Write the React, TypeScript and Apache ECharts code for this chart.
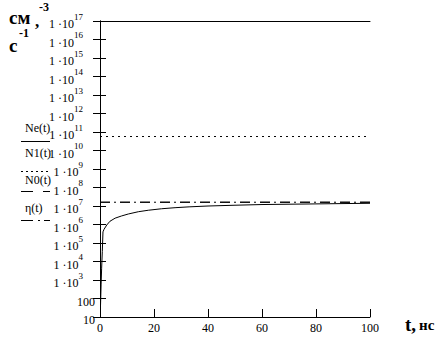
import React, { useEffect, useRef } from "react";
import * as echarts from "echarts";

// Ne(t) curve, t in ns
const neTime = [0.2, 0.4, 0.6, 0.85, 1.1, 1.5, 2.5, 3.7, 5.6, 8, 10.5, 14.2, 17.9, 22.8, 27.8, 33, 40, 50, 60, 70, 80, 90, 100];
const neValue = [45, 540, 4e3, 3.4e4, 4e5, 5.5e5, 9.4e5, 1.5e6, 2.2e6, 2.9e6, 3.7e6, 4.9e6, 5.9e6, 7.1e6, 8.1e6, 9e6, 1e7, 1.1e7, 1.2e7, 1.25e7, 1.3e7, 1.35e7, 1.4e7];
// constant levels
const constTime = [0, 100];
const n1Value = [5.7e10, 5.7e10];
const n0Value = [1.6e7, 1.6e7];
const etaValue = [1.6e7, 1.6e7];
const legendNames = ["Ne(t)", "N1(t)", "N0(t)", "η(t)"];

const SERIF = "Liberation Serif";

export default function App() {
  const ref = useRef<HTMLDivElement>(null);
  useEffect(() => {
    if (!ref.current) return;
    const chart = echarts.init(ref.current, undefined, { renderer: "svg" });
    const yLabelRich = {
      b: { fontFamily: SERIF, fontSize: 12, color: "#000", lineHeight: 12, padding: [6, 0, 0, 0] },
      s: { fontFamily: SERIF, fontSize: 9, color: "#000", lineHeight: 9, padding: [0, 12, 9, 0] },
    };
    const yFormatter = (v: number) => {
      const e = Math.round(Math.log10(v));
      if (e <= 2) return `{b|${Math.round(v)}}`;
      return `{b|1 ·10}{s|${e}}`;
    };
    const axisLineStyle = { color: "#000", width: 1 };
    const legendY = [141.5, 171.5, 191.5, 220.5];
    const legendTextY = [128, 153, 180, 208];
    const legendDash: any[] = [null, [2, 3], [12, 10], [12, 5, 2, 4]];
    const graphics: any[] = [];
    const txt = (text: string, x: number, y: number, size: number, bold = false, vAlign = "middle") => ({
      type: "text",
      x,
      y,
      style: {
        text,
        fontFamily: SERIF,
        fontSize: size,
        fontWeight: bold ? "bold" : "normal",
        fill: "#000",
        textVerticalAlign: vAlign,
        verticalAlign: vAlign,
      },
    });
    legendNames.forEach((name, i) => {
      graphics.push(txt(name, 25, legendTextY[i], 12));
      graphics.push({
        type: "line",
        shape: { x1: 21, y1: legendY[i], x2: 50, y2: legendY[i] },
        style: { stroke: "#000", lineWidth: 1, lineDash: legendDash[i] || undefined },
      });
    });
    // axis titles
    graphics.push(txt("см", 9, 17, 19, true));
    graphics.push(txt(",", 35, 21, 17, true));
    graphics.push(txt("-3", 39, 6.5, 12, true));
    graphics.push(txt("с", 9, 45, 19, true));
    graphics.push(txt("-1", 19, 33, 12, true));
    graphics.push(txt("t,", 405, 324, 19, true));
    graphics.push(txt("нс", 419, 325, 15, true));

    const pairs = (xs: number[], ys: number[]) => xs.map((x, i) => [x, ys[i]]);

    chart.setOption({
      animation: false,
      backgroundColor: "#fff",
      textStyle: { fontFamily: SERIF },
      grid: { left: 100, right: 76, top: 21, bottom: 22, containLabel: false, outerBoundsMode: "none" },
      xAxis: [
        {
          type: "value",
          min: 0,
          max: 100,
          interval: 20,
          position: "bottom",
          axisLine: { show: true, lineStyle: axisLineStyle },
          axisTick: { show: true, inside: true, length: 8, lineStyle: axisLineStyle },
          axisLabel: { color: "#000", fontFamily: SERIF, fontSize: 12, margin: 5, showMinLabel: true, showMaxLabel: true },
          splitLine: { show: false },
        },
        {
          type: "value",
          min: 0,
          max: 100,
          position: "top",
          axisLine: { show: true, lineStyle: axisLineStyle },
          axisTick: { show: false },
          axisLabel: { show: false },
          splitLine: { show: false },
        },
      ],
      yAxis: [
        {
          type: "log",
          logBase: 10,
          min: 10,
          max: 1e17,
          interval: 1,
          position: "left",
          axisLine: { show: true, lineStyle: axisLineStyle },
          axisTick: { show: true, inside: true, length: 6, lineStyle: axisLineStyle },
          axisLabel: { formatter: yFormatter, rich: yLabelRich, fontFamily: SERIF, color: "#000", margin: 5, showMinLabel: true, showMaxLabel: true },
          splitLine: { show: false },
          minorTick: { show: false },
        },
        {
          type: "log",
          logBase: 10,
          min: 10,
          max: 1e17,
          interval: 1,
          position: "right",
          axisLine: { show: true, lineStyle: axisLineStyle },
          axisTick: { show: true, inside: true, length: 7, lineStyle: axisLineStyle },
          axisLabel: { show: false },
          splitLine: { show: false },
        },
      ],
      series: [
        {
          name: legendNames[0],
          type: "line",
          data: pairs(neTime, neValue),
          showSymbol: false,
          symbol: "none",
          lineStyle: { color: "#000", width: 1 },
        },
        {
          name: legendNames[1],
          type: "line",
          data: pairs(constTime, n1Value),
          symbol: "none",
          lineStyle: { color: "#000", width: 1, type: [2, 4] },
        },
        {
          name: legendNames[2],
          type: "line",
          data: pairs(constTime, n0Value),
          symbol: "none",
          lineStyle: { color: "#000", width: 1, type: [10, 10] },
        },
        {
          name: legendNames[3],
          type: "line",
          data: pairs(constTime, etaValue),
          symbol: "none",
          lineStyle: { color: "#000", width: 1, type: [10, 4, 2, 4] },
        },
      ],
      graphic: graphics,
    });
    return () => chart.dispose();
  }, []);
  return (
    <div
      ref={ref}
      style={{ position: "fixed", left: 0, top: 0, width: 446, height: 339, background: "#fff" }}
    />
  );
}
